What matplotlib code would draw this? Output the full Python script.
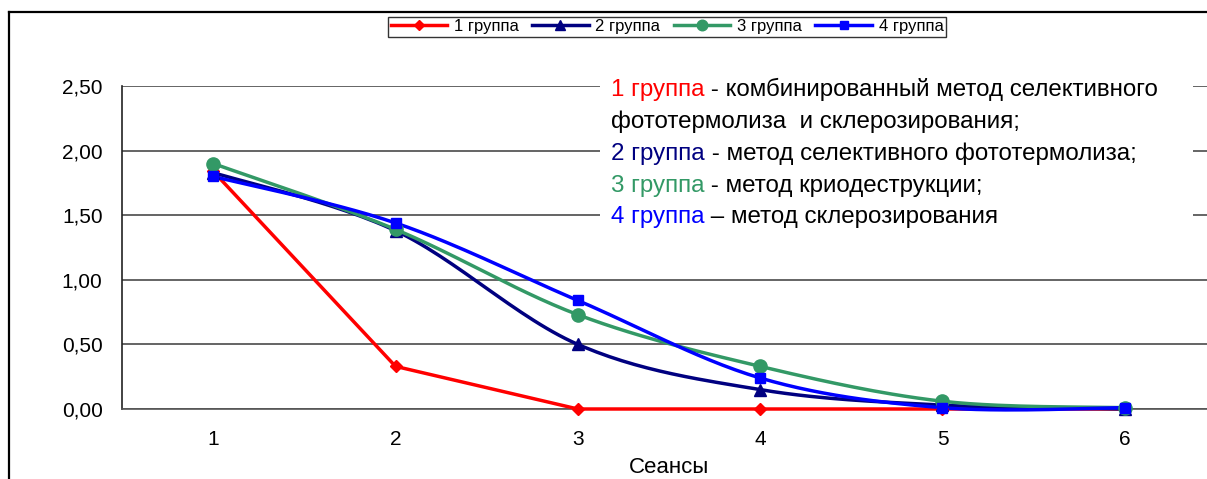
import numpy as np
import matplotlib
matplotlib.use("Agg")
import matplotlib.pyplot as plt
from matplotlib.lines import Line2D
from matplotlib.patches import Rectangle

plt.rcParams['font.family'] = ['Liberation Sans', 'DejaVu Sans']

# ---- data ----
sessions = [1, 2, 3, 4, 5, 6]
group1 = [1.84, 0.33, 0.00, 0.00, 0.00, 0.00]
group2 = [1.83, 1.38, 0.50, 0.15, 0.03, 0.00]
group3 = [1.90, 1.39, 0.73, 0.33, 0.06, 0.01]
group4 = [1.80, 1.44, 0.84, 0.24, 0.01, 0.01]
series_names = ["1 группа", "2 группа", "3 группа", "4 группа"]
y_ticks = [0.0, 0.5, 1.0, 1.5, 2.0, 2.5]
y_tick_labels = ["0,00", "0,50", "1,00", "1,50", "2,00", "2,50"]
x_label = "Сеансы"
notes = [
    [("1 группа", "#FF0000"), (" - комбинированный метод селективного", "black")],
    [("фототермолиза  и склерозирования;", "black")],
    [("2 группа", "#000080"), (" - метод селективного фототермолиза;", "black")],
    [("3 группа", "#339966"), (" - метод криодеструкции;", "black")],
    [("4 группа", "#0000FF"), (" – метод склерозирования", "black")],
]

colors = ["#FF0000", "#000080", "#339966", "#0000FF"]
markers = ["D", "^", "o", "s"]
msizes = [6.5, 8.5, 9.5, 7]
smooth = [False, True, True, True]


def excel_smooth(x, y, n=30):
    x = np.asarray(x, float)
    y = np.asarray(y, float)
    xs, ys = [], []
    m = len(x)
    for i in range(m - 1):
        p0 = np.array([x[max(i - 1, 0)], y[max(i - 1, 0)]])
        p1 = np.array([x[i], y[i]])
        p2 = np.array([x[i + 1], y[i + 1]])
        p3 = np.array([x[min(i + 2, m - 1)], y[min(i + 2, m - 1)]])
        c1 = p1 + (p2 - p0) / 6.0
        c2 = p2 - (p3 - p1) / 6.0
        t = np.linspace(0, 1, n)[:, None]
        pts = ((1 - t) ** 3) * p1 + 3 * ((1 - t) ** 2) * t * c1 + 3 * (1 - t) * t ** 2 * c2 + t ** 3 * p2
        xs.extend(pts[:, 0])
        ys.extend(pts[:, 1])
    return np.array(xs), np.array(ys)


W, H = 1207, 479
fig = plt.figure(figsize=(W / 100, H / 100), dpi=100)
fig.patch.set_facecolor("white")

ax_left, ax_right, ax_top, ax_bottom = 122, 1216, 86, 409
ax = fig.add_axes([ax_left / W, 1 - ax_bottom / H, (ax_right - ax_left) / W, (ax_bottom - ax_top) / H])
ax.set_xlim(0.5, 6.5)
ax.set_ylim(0, 2.5)

for v in y_ticks:
    ax.axhline(v, color="#3a3a3a", lw=1.1, zorder=0.5)

ax.set_yticks(y_ticks)
ax.set_yticklabels(y_tick_labels)
ax.set_xticks(sessions)
ax.set_xticklabels([str(s) for s in sessions])
ax.tick_params(axis="both", length=0, labelsize=15, colors="black")
ax.tick_params(axis="y", pad=14)
ax.tick_params(axis="x", pad=15)
for s in ["top", "right"]:
    ax.spines[s].set_visible(False)
ax.spines["left"].set_color("#222222")
ax.spines["bottom"].set_color("#555555")
ax.spines["left"].set_linewidth(1.2)
ax.spines["bottom"].set_linewidth(1.2)
ax.set_xlabel(x_label, fontsize=16, labelpad=6)

# white box behind notes
box = Rectangle((600 / W, 1 - 237 / H), (1193 - 600) / W, (237 - 68) / H,
                transform=fig.transFigure, facecolor="white", edgecolor="none", zorder=1)
ax.add_artist(box)
box.set_clip_on(False)

handles = []
for data, c, mk, ms, sm, name in zip([group1, group2, group3, group4], colors, markers, msizes, smooth, series_names):
    if sm:
        xs, ys = excel_smooth(sessions, data)
    else:
        xs, ys = np.array(sessions, float), np.array(data, float)
    ax.plot(xs, ys, color=c, lw=2.5, zorder=3, clip_on=False)
    ax.plot(sessions, data, linestyle="none", marker=mk, ms=ms, color=c, zorder=4, clip_on=False)
    handles.append(Line2D([], [], color=c, lw=2.5, marker=mk, ms=ms * 0.8))

leg = fig.legend(handles, series_names, loc="center", bbox_to_anchor=(667 / W, 1 - 26.5 / H), ncol=4,
                 fontsize=12, frameon=True, fancybox=False, handlelength=3.4, handletextpad=0.4,
                 columnspacing=0.8, borderpad=0.15, borderaxespad=0)
leg.get_frame().set_edgecolor("black")
leg.get_frame().set_linewidth(1.0)

# chart area border
fig.add_artist(Line2D([9 / W, 1], [1 - 12 / H, 1 - 12 / H], color="black", lw=1.6, transform=fig.transFigure))
fig.add_artist(Line2D([9 / W, 9 / W], [0, 1 - 12 / H], color="black", lw=1.6, transform=fig.transFigure))

# notes text
baselines = [96, 128, 160, 192, 223]
x0 = 611
fig.canvas.draw()
renderer = fig.canvas.get_renderer()
for parts, yb in zip(notes, baselines):
    xpix = x0
    for txt, col in parts:
        t = fig.text(xpix / W, 1 - yb / H, txt, color=col, fontsize=17.4, ha="left", va="baseline", zorder=5)
        bb = t.get_window_extent(renderer)
        xpix += bb.width

fig.savefig("out.png", dpi=100)
